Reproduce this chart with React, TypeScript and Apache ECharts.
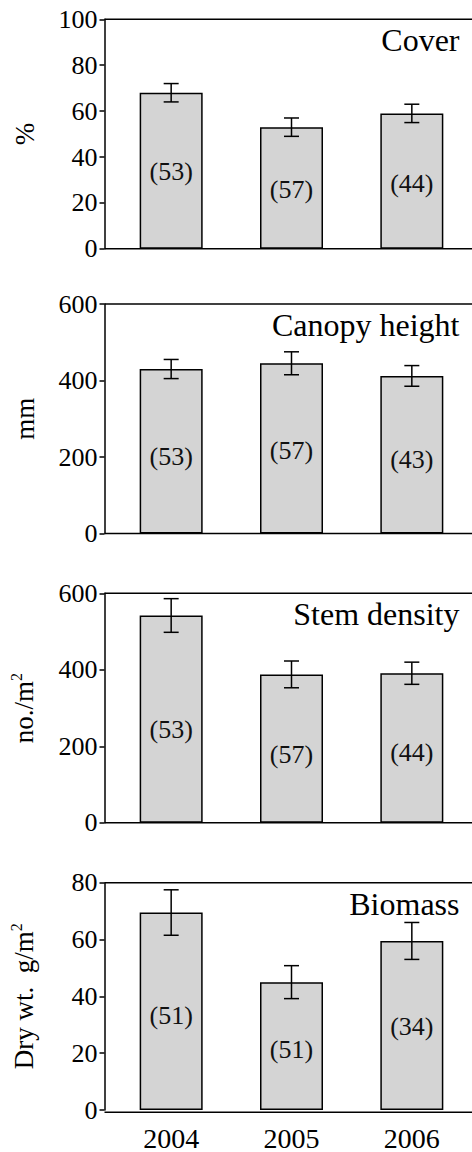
import React, { useEffect, useRef } from "react";
import * as echarts from "echarts";

// ---- data ----
const years = ["2004", "2005", "2006"];

const coverMean = [68, 53, 59];
const coverSE = [4, 4, 4];
const coverN = [53, 57, 44];
const coverNLabelY = [33.5, 26, 28.5];

const canopyMean = [430, 445, 412];
const canopySE = [25, 30, 27];
const canopyN = [53, 57, 43];
const canopyNLabelY = [202, 217, 193];

const stemMean = [542, 388, 391];
const stemSE = [44, 35, 29];
const stemN = [53, 57, 44];
const stemNLabelY = [245, 178, 184];

const biomassMean = [69.5, 45, 59.5];
const biomassSE = [8, 5.8, 6.5];
const biomassN = [51, 51, 34];
const biomassNLabelY = [33.4, 21.2, 29.4];

const panelTitles = ["Cover", "Canopy height", "Stem density", "Biomass"];
const yNames = ["%", "mm", "no./m{sup|2}", "Dry wt.  g/m{sup|2}"];
const yMax = [100, 600, 600, 80];
const yInterval = [20, 200, 200, 20];

// ---- layout ----
const W = 472;
const H = 1152;
const FONT = "Liberation Serif";
const gridTops = [19.3, 304, 593.3, 882.7];
const gridH = 229.5;
const gridLeft = 111;
const axisOffset = 6.5;

const means = [coverMean, canopyMean, stemMean, biomassMean];
const ses = [coverSE, canopySE, stemSE, biomassSE];
const ns = [coverN, canopyN, stemN, biomassN];
const nYs = [coverNLabelY, canopyNLabelY, stemNLabelY, biomassNLabelY];

function renderErr(params: any, api: any) {
  const c = api.value(0);
  const lo = api.value(1);
  const hi = api.value(2);
  const pLo = api.coord([c, lo]);
  const pHi = api.coord([c, hi]);
  const hw = 7.5;
  const st = { stroke: "#000", lineWidth: 1.5 };
  return {
    type: "group",
    children: [
      { type: "line", shape: { x1: pLo[0], y1: pLo[1], x2: pHi[0], y2: pHi[1] }, style: st },
      { type: "line", shape: { x1: pLo[0] - hw, y1: pLo[1], x2: pLo[0] + hw, y2: pLo[1] }, style: st },
      { type: "line", shape: { x1: pHi[0] - hw, y1: pHi[1], x2: pHi[0] + hw, y2: pHi[1] }, style: st },
    ],
  };
}

function renderN(params: any, api: any) {
  const c = api.value(0);
  const y = api.value(1);
  const n = api.value(2);
  const p = api.coord([c, y]);
  return {
    type: "text",
    x: p[0],
    y: p[1],
    style: {
      text: "(" + n + ")",
      font: "26px " + FONT,
      fontSize: 26,
      fontFamily: FONT,
      fill: "#111",
      align: "center",
      verticalAlign: "middle",
    },
  };
}

export default function App() {
  const ref = useRef<HTMLDivElement>(null);
  useEffect(() => {
    if (!ref.current) return;
    const chart = echarts.init(ref.current, null, { renderer: "svg" });

    const grids: any[] = [];
    const xAxes: any[] = [];
    const yAxes: any[] = [];
    const series: any[] = [];
    const titles: any[] = [];
    const graphics: any[] = [];

    for (let i = 0; i < 4; i++) {
      const top = gridTops[i];
      grids.push({ left: gridLeft, right: 0, top, height: gridH });
      xAxes.push({
        type: "category",
        gridIndex: i,
        data: years,
        axisLine: { show: false },
        axisTick: { show: false },
        axisLabel: {
          show: i === 3,
          fontSize: 28,
          fontFamily: FONT,
          color: "#000",
          margin: 14,
        },
      });
      yAxes.push({
        type: "value",
        gridIndex: i,
        min: 0,
        max: yMax[i],
        interval: yInterval[i],
        offset: axisOffset,
        name: yNames[i],
        nameLocation: "middle",
        nameGap: 66,
        nameTextStyle: {
          fontSize: 27,
          fontFamily: FONT,
          color: "#000",
          rich: {
            sup: { fontSize: 16, fontFamily: FONT, color: "#000", verticalAlign: "top", lineHeight: 30 },
          },
        },
        axisLine: { show: true, lineStyle: { color: "#000", width: 1.5 } },
        axisTick: { show: true, inside: false, length: 5, lineStyle: { color: "#000", width: 1.5 } },
        axisLabel: { fontSize: 26, fontFamily: FONT, color: "#000", margin: 7 },
        splitLine: { show: false },
      });
      titles.push({
        text: panelTitles[i],
        right: W - 459.5,
        top: top + 5,
        padding: 0,
        textStyle: { fontSize: 32, fontWeight: "normal", fontFamily: FONT, color: "#000" },
      });
      series.push({
        type: "bar",
        xAxisIndex: i,
        yAxisIndex: i,
        data: means[i],
        barWidth: 63,
        itemStyle: { color: "#d4d4d4", borderColor: "#000", borderWidth: 1.5 },
        z: 2,
      });
      series.push({
        type: "custom",
        xAxisIndex: i,
        yAxisIndex: i,
        renderItem: renderErr,
        data: means[i].map((m, k) => [k, m - ses[i][k], m + ses[i][k]]),
        z: 5,
      });
      series.push({
        type: "custom",
        xAxisIndex: i,
        yAxisIndex: i,
        renderItem: renderN,
        data: nYs[i].map((y, k) => [k, y, ns[i][k]]),
        z: 6,
      });
      const ax = gridLeft - axisOffset;
      graphics.push({
        type: "line",
        shape: { x1: ax, y1: top, x2: W, y2: top },
        style: { stroke: "#000", lineWidth: 1.5 },
        z: 10,
      });
      graphics.push({
        type: "line",
        shape: { x1: ax, y1: top + gridH, x2: W, y2: top + gridH },
        style: { stroke: "#000", lineWidth: 1.5 },
        z: 10,
      });
    }

    chart.setOption({
      animation: false,
      backgroundColor: "#fff",
      textStyle: { fontFamily: FONT },
      title: titles,
      grid: grids,
      xAxis: xAxes,
      yAxis: yAxes,
      series,
      graphic: graphics,
    });
    return () => chart.dispose();
  }, []);
  return (
    <div
      ref={ref}
      style={{ position: "fixed", left: 0, top: 0, width: W, height: H, background: "#fff" }}
    />
  );
}
